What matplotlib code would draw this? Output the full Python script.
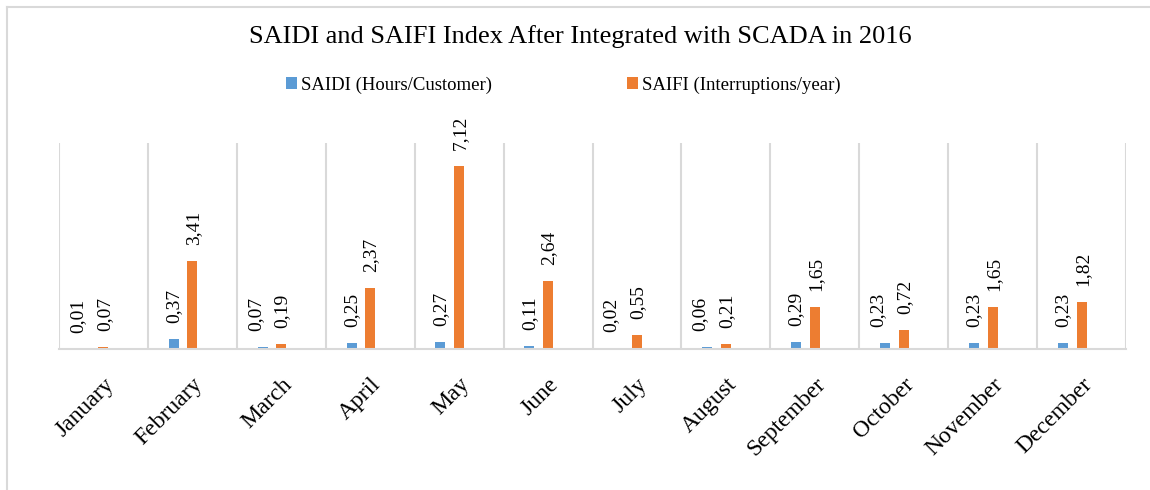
import matplotlib.pyplot as plt
import numpy as np
from matplotlib.lines import Line2D

plt.rcParams['font.family'] = ['Liberation Serif', 'DejaVu Serif']

months = ['January', 'February', 'March', 'April', 'May', 'June', 'July',
          'August', 'September', 'October', 'November', 'December']
saidi = [0.01, 0.37, 0.07, 0.25, 0.27, 0.11, 0.02, 0.06, 0.29, 0.23, 0.23, 0.23]
saifi = [0.07, 3.41, 0.19, 2.37, 7.12, 2.64, 0.55, 0.21, 1.65, 0.72, 1.65, 1.82]

blue = '#5B9BD5'
orange = '#ED7D31'
grid_c = '#D9D9D9'

fig = plt.figure(figsize=(11.5, 4.9), dpi=100)
ax = fig.add_axes([59 / 1150, 1 - 349 / 490, (1126 - 59) / 1150, (349 - 143) / 490])

x = np.arange(len(months))
w = 0.112
b1 = ax.bar(x - 0.21, saidi, w, color=blue, label='SAIDI (Hours/Customer)')
b2 = ax.bar(x, saifi, w, color=orange, label='SAIFI (Interruptions/year)')

# blue labels get nudged left when the orange label next to them sits low
for r, v, o in zip(b1, saidi, saifi):
    dx = -7 if o < 1 else 0
    ax.annotate(f'{v:.2f}'.replace('.', ','),
                (r.get_x() + r.get_width() / 2, r.get_height()),
                xytext=(dx, 16), textcoords='offset pixels',
                rotation=90, ha='center', va='bottom', fontsize=14)
for r, v in zip(b2, saifi):
    ax.annotate(f'{v:.2f}'.replace('.', ','),
                (r.get_x() + r.get_width() / 2, r.get_height()),
                xytext=(1, 16), textcoords='offset pixels',
                rotation=90, ha='center', va='bottom', fontsize=14)

ax.set_xlim(-0.5, len(months) - 0.5)
ax.set_ylim(0, 8)
ax.set_yticks([])
for b in np.arange(-0.5, len(months), 1):
    ax.axvline(b, color=grid_c, lw=1.5, zorder=0)
for s in ['top', 'left', 'right']:
    ax.spines[s].set_visible(False)
ax.spines['bottom'].set_color(grid_c)
ax.spines['bottom'].set_linewidth(1.5)

ax.set_xticks(x)
ax.set_xticklabels(months, rotation=45, ha='right', rotation_mode='anchor',
                   fontsize=17)
ax.tick_params(axis='x', length=0, pad=18)

fig.text(0.505, 1 - 37 / 490, 'SAIDI and SAIFI Index After Integrated with SCADA in 2016',
         ha='center', va='center', fontsize=19)
fig.legend(handles=[b1, b2], loc='center', bbox_to_anchor=(0.49, 1 - 85 / 490),
           ncol=2, frameon=False, fontsize=13.5, handlelength=0.6,
           handleheight=0.6, handletextpad=0.2, columnspacing=7.2)

# chart frame (only top/left edges visible)
fig.add_artist(Line2D([7 / 1150, 1], [1 - 7 / 490, 1 - 7 / 490], color=grid_c, lw=1.5))
fig.add_artist(Line2D([7 / 1150, 7 / 1150], [0, 1 - 7 / 490], color=grid_c, lw=1.5))

fig.savefig('out.png', dpi=100)
